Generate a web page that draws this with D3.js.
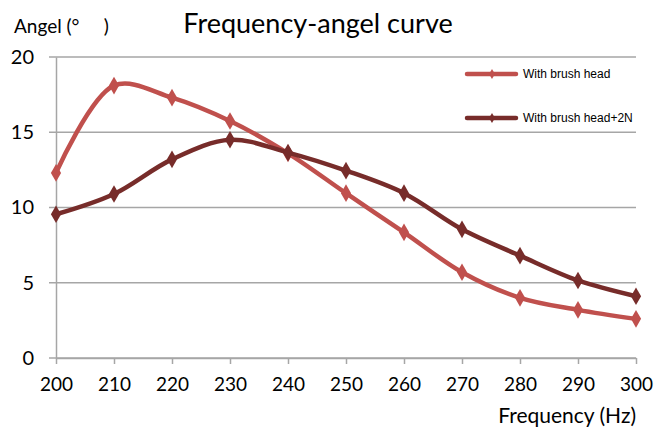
<!DOCTYPE html>
<html>
<head>
<meta charset="utf-8">
<script src="https://cdn.jsdelivr.net/npm/d3@7"></script>
<style>
  body { margin: 0; background: #fff; }
  svg { display: block; }
</style>
</head>
<body>
<div class="canvas"></div>
<script>
// chart data
const frequencies = [200, 210, 220, 230, 240, 250, 260, 270, 280, 290, 300];
const withBrushHead = [12.3, 18.1, 17.3, 15.75, 13.6, 10.95, 8.35, 5.7, 4.0, 3.2, 2.6];
const withBrushHead2N = [9.55, 10.9, 13.2, 14.5, 13.65, 12.45, 10.95, 8.55, 6.8, 5.15, 4.1];
const seriesNames = ["With brush head", "With brush head+2N"];
const yTicks = [0, 5, 10, 15, 20];

const width = 655, height = 432;
const plot = {left: 56, right: 636, top: 57, bottom: 358};
const colors = ["#C0504D", "#772C2A"];
const gridColor = "#A6A6A6";
const labelFont = "Lato, 'Open Sans', sans-serif";

const svg = d3.select(".canvas").append("svg")
    .attr("width", width)
    .attr("height", height);

const x = d3.scaleLinear()
    .domain([200, 300])
    .range([plot.left, plot.right]);

const y = d3.scaleLinear()
    .domain([0, 20])
    .range([plot.bottom, plot.top]);

// horizontal gridlines
svg.append("g")
    .selectAll("line")
    .data(yTicks)
    .enter()
    .append("line")
    .attr("x1", plot.left - 7)
    .attr("x2", plot.right)
    .attr("y1", d => y(d))
    .attr("y2", d => y(d))
    .attr("stroke", gridColor)
    .attr("stroke-width", 1.5);

// y axis
const yAxis = d3.axisLeft(y).tickValues(yTicks).tickSize(0).tickPadding(22);
const yAxisGroup = svg.append("g")
    .attr("transform", `translate(${plot.left}, 0)`)
    .call(yAxis);
yAxisGroup.select(".domain").attr("stroke", gridColor).attr("stroke-width", 1.5);
yAxisGroup.selectAll("text")
    .style("font-family", labelFont)
    .style("font-size", "20px")
    .attr("fill", "#000");

// x axis
const xAxis = d3.axisBottom(x).tickValues(frequencies).tickSize(6).tickPadding(14).tickSizeOuter(0);
const xAxisGroup = svg.append("g")
    .attr("transform", `translate(0, ${plot.bottom})`)
    .call(xAxis);
xAxisGroup.select(".domain").attr("stroke", gridColor).attr("stroke-width", 1.5);
xAxisGroup.selectAll("line").attr("stroke", gridColor).attr("stroke-width", 1.5);
xAxisGroup.selectAll("text")
    .style("font-family", labelFont)
    .style("font-size", "19px")
    .attr("fill", "#000");

// lines
const allSeries = [withBrushHead, withBrushHead2N];
const line = d3.line()
    .x((d, i) => x(frequencies[i]))
    .y(d => y(d))
    .curve(d3.curveCatmullRom.alpha(0.5));

const diamond = d3.symbol().type(d3.symbolDiamond).size(90);

allSeries.forEach((values, k) => {
    svg.append("path")
        .datum(values)
        .attr("d", line)
        .attr("fill", "none")
        .attr("stroke", colors[k])
        .attr("stroke-width", 4.5)
        .attr("stroke-linejoin", "round");

    svg.append("g")
        .selectAll("path")
        .data(values)
        .enter()
        .append("path")
        .attr("d", diamond)
        .attr("transform", (d, i) => `translate(${x(frequencies[i])}, ${y(d)})`)
        .attr("fill", colors[k]);
});

// legend
const legendGroup = svg.append("g").attr("transform", "translate(467, 74)");
seriesNames.forEach((name, i) => {
    const g = legendGroup.append("g").attr("transform", `translate(0, ${i * 44})`);
    g.append("line")
        .attr("x1", 0).attr("x2", 49)
        .attr("stroke", colors[i])
        .attr("stroke-width", 4.5)
        .attr("stroke-linecap", "round");
    g.append("path")
        .attr("d", d3.symbol().type(d3.symbolDiamond).size(30))
        .attr("transform", "translate(25, 0)")
        .attr("fill", colors[i]);
    g.append("text")
        .attr("x", 56)
        .attr("y", 0)
        .attr("dy", "0.35em")
        .style("font-family", "'Liberation Sans', Arial, sans-serif")
        .style("font-size", "12px")
        .text(name);
});

// titles
svg.append("text")
    .attr("x", 318)
    .attr("y", 33)
    .attr("text-anchor", "middle")
    .style("font-family", labelFont)
    .style("font-size", "27px")
    .text("Frequency-angel curve");

svg.append("text")
    .attr("x", 14)
    .attr("y", 33)
    .style("font-family", labelFont)
    .style("font-size", "19px")
    .style("white-space", "pre")
    .text("Angel (°     )");

svg.append("text")
    .attr("x", 636)
    .attr("y", 423)
    .attr("text-anchor", "end")
    .style("font-family", labelFont)
    .style("font-size", "21px")
    .text("Frequency (Hz)");
</script>
</body>
</html>
